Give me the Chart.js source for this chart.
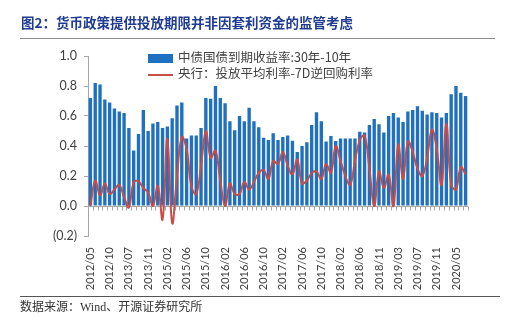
<!DOCTYPE html>
<html lang="zh">
<head>
    <meta charset="UTF-8">
    <title>货币政策提供投放期限</title>
    <script src="https://cdn.jsdelivr.net/npm/chart.js"></script>
    <style>
        html, body {
            margin: 0;
            padding: 0;
            background: #fff;
        }
        body {
            width: 525px;
            height: 332px;
            position: relative;
            overflow: hidden;
            font-family: "Noto Sans CJK SC", sans-serif;
        }
        #wrap {
            position: absolute;
            left: 0;
            top: 0;
            width: 525px;
            height: 332px;
        }
        .title {
            position: absolute;
            left: 21px;
            top: 14px;
            font-size: 13.5px;
            line-height: 16px;
            font-weight: bold;
            color: #1f3b92;
            white-space: nowrap;
        }
        .rule {
            position: absolute;
            left: 20px;
            height: 1px;
            background: #8a8a8a;
        }
        .legend {
            position: absolute;
            left: 148px;
            font-size: 12.5px;
            line-height: 14px;
            color: #404040;
            white-space: nowrap;
        }
        .legend .key {
            display: inline-block;
            width: 25px;
            vertical-align: middle;
            margin-right: 5px;
        }
        .source {
            position: absolute;
            left: 20px;
            top: 300px;
            font-size: 12px;
            line-height: 14px;
            color: #333;
            font-family: "Liberation Serif", "Noto Sans CJK SC", serif;
            white-space: nowrap;
        }
    </style>
</head>
<body>
    <div id="wrap"><canvas id="chart" width="525" height="332"></canvas></div>
    <div class="title">图2：货币政策提供投放期限并非因套利资金的监管考虑</div>
    <div class="rule" style="top: 38px; width: 475px;"></div>
    <div class="legend" style="top: 50px;"><span class="key" style="height: 9px; background: #1f70c1;"></span>中债国债到期收益率:30年-10年</div>
    <div class="legend" style="top: 66px;"><span class="key" style="height: 2px; background: #c94c47;"></span>央行：投放平均利率-7D逆回购利率</div>
    <div class="rule" style="top: 296px; width: 480px; background: #555;"></div>
    <div class="source">数据来源：Wind、开源证券研究所</div>

    <script>
        // 横轴显示的日期标签（每 4 根柱子一个）
        const tickLabels = ['2012/05', '2012/10', '2013/07', '2013/11', '2015/02', '2015/06', '2015/10',
            '2016/02', '2016/06', '2016/10', '2017/02', '2017/06', '2017/10', '2018/02', '2018/06',
            '2018/11', '2019/03', '2019/07', '2019/11', '2020/05'];

        // 中债国债到期收益率: 30年-10年
        const spread30y10y = [
            0.72, 0.82, 0.81, 0.71, 0.69, 0.65, 0.63, 0.62, 0.52, 0.37,
            0.48, 0.64, 0.50, 0.55, 0.56, 0.52, 0.53, 0.585, 0.67, 0.69,
            0.45, 0.47, 0.47, 0.52, 0.72, 0.715, 0.80, 0.72, 0.685, 0.565,
            0.505, 0.60, 0.565, 0.655, 0.565, 0.525, 0.455, 0.44, 0.485, 0.44,
            0.46, 0.47, 0.435, 0.36, 0.40, 0.425, 0.54, 0.625, 0.565, 0.43,
            0.467, 0.433, 0.45, 0.45, 0.45, 0.45, 0.495, 0.49, 0.54, 0.58,
            0.545, 0.49, 0.60, 0.62, 0.59, 0.56, 0.63, 0.64, 0.665, 0.635,
            0.61, 0.625, 0.62, 0.59, 0.62, 0.745, 0.80, 0.755, 0.733
        ];

        // 央行：投放平均利率-7D逆回购利率
        const pbocSpread = [
            0.00, 0.17, 0.07, 0.15, 0.08, 0.11, 0.14, 0.06, -0.01, 0.16,
            0.165, 0.12, 0.09, 0.00, 0.135, -0.09, 0.45, -0.115, 0.20, 0.46,
            0.38, 0.13, 0.08, 0.27, 0.50, 0.32, 0.37, 0.17, 0.00, 0.15,
            0.08, 0.08, 0.16, 0.11, 0.16, 0.22, 0.24, 0.18, 0.30, 0.28,
            0.36, 0.27, 0.21, 0.31, 0.15, 0.17, 0.22, 0.23, 0.18, 0.28,
            0.22, 0.40, 0.30, 0.20, 0.14, 0.30, 0.44, 0.47, 0.25, 0.00,
            0.23, 0.12, 0.21, 0.00, 0.41, 0.18, 0.43, 0.36, 0.25, 0.20,
            0.32, 0.51, 0.38, 0.14, 0.55, 0.14, 0.11, 0.26, 0.21
        ];

        const yTicks = [-0.2, 0, 0.2, 0.4, 0.6, 0.8, 1.0];

        // 每根柱子一个类别，只有每第 4 个带日期
        const categories = spread30y10y.map((_, i) => (i % 4 === 0 ? (tickLabels[i / 4] || '') : ''));

        const axisGray = '#a6a6a6';

        // 0 轴线和每个类别的小刻度
        const zeroAxis = {
            id: 'zeroAxis',
            beforeDatasetsDraw(chart) {
                const x = chart.scales.x, y = chart.scales.y;
                const ctx = chart.ctx;
                const y0 = Math.round(y.getPixelForValue(0)) + 0.5;
                const step = (x.right - x.left) / categories.length;
                ctx.save();
                ctx.strokeStyle = axisGray;
                ctx.lineWidth = 1;
                ctx.beginPath();
                ctx.moveTo(x.left, y0);
                ctx.lineTo(x.right, y0);
                for (let i = 0; i <= categories.length; i++) {
                    const px = Math.round(x.left + step * i) + 0.5;
                    ctx.moveTo(px, y0);
                    ctx.lineTo(px, y0 + 4);
                }
                ctx.stroke();
                ctx.restore();
            }
        };

        new Chart(document.getElementById('chart'), {
            data: {
                labels: categories,
                datasets: [
                    {
                        type: 'line',
                        label: '央行：投放平均利率-7D逆回购利率',
                        data: pbocSpread,
                        borderColor: '#c94c47',
                        borderWidth: 2,
                        pointRadius: 0,
                        tension: 0.4,
                        fill: false,
                        order: 1
                    },
                    {
                        type: 'bar',
                        label: '中债国债到期收益率:30年-10年',
                        data: spread30y10y,
                        backgroundColor: '#1f70c1',
                        barPercentage: 0.7,
                        categoryPercentage: 1.0,
                        order: 2
                    }
                ]
            },
            options: {
                responsive: false,
                animation: false,
                devicePixelRatio: 1,
                layout: {
                    padding: { left: 0, right: 57, top: 56, bottom: 0 }
                },
                plugins: {
                    legend: { display: false },
                    tooltip: { enabled: false }
                },
                scales: {
                    x: {
                        offset: true,
                        grid: { display: false, drawTicks: false },
                        border: { display: false },
                        ticks: {
                            autoSkip: false,
                            minRotation: 90,
                            maxRotation: 90,
                            padding: 11,
                            color: '#404040',
                            font: { family: 'Lato', size: 11 }
                        },
                        afterFit(scale) { scale.height = 96; }
                    },
                    y: {
                        min: -0.2,
                        max: 1.0,
                        afterBuildTicks(scale) {
                            scale.ticks = yTicks.map(v => ({ value: v }));
                        },
                        grid: {
                            drawOnChartArea: false,
                            drawTicks: true,
                            tickLength: 4,
                            color: axisGray
                        },
                        border: { color: axisGray },
                        ticks: {
                            padding: 7,
                            color: '#404040',
                            font: { family: 'Lato', size: 12.5 },
                            callback(v) {
                                const s = Math.abs(v).toFixed(1);
                                return v < 0 ? '(' + s + ')' : s;
                            }
                        },
                        afterFit(scale) { scale.width = 88; }
                    }
                }
            },
            plugins: [zeroAxis]
        });
    </script>
</body>
</html>
